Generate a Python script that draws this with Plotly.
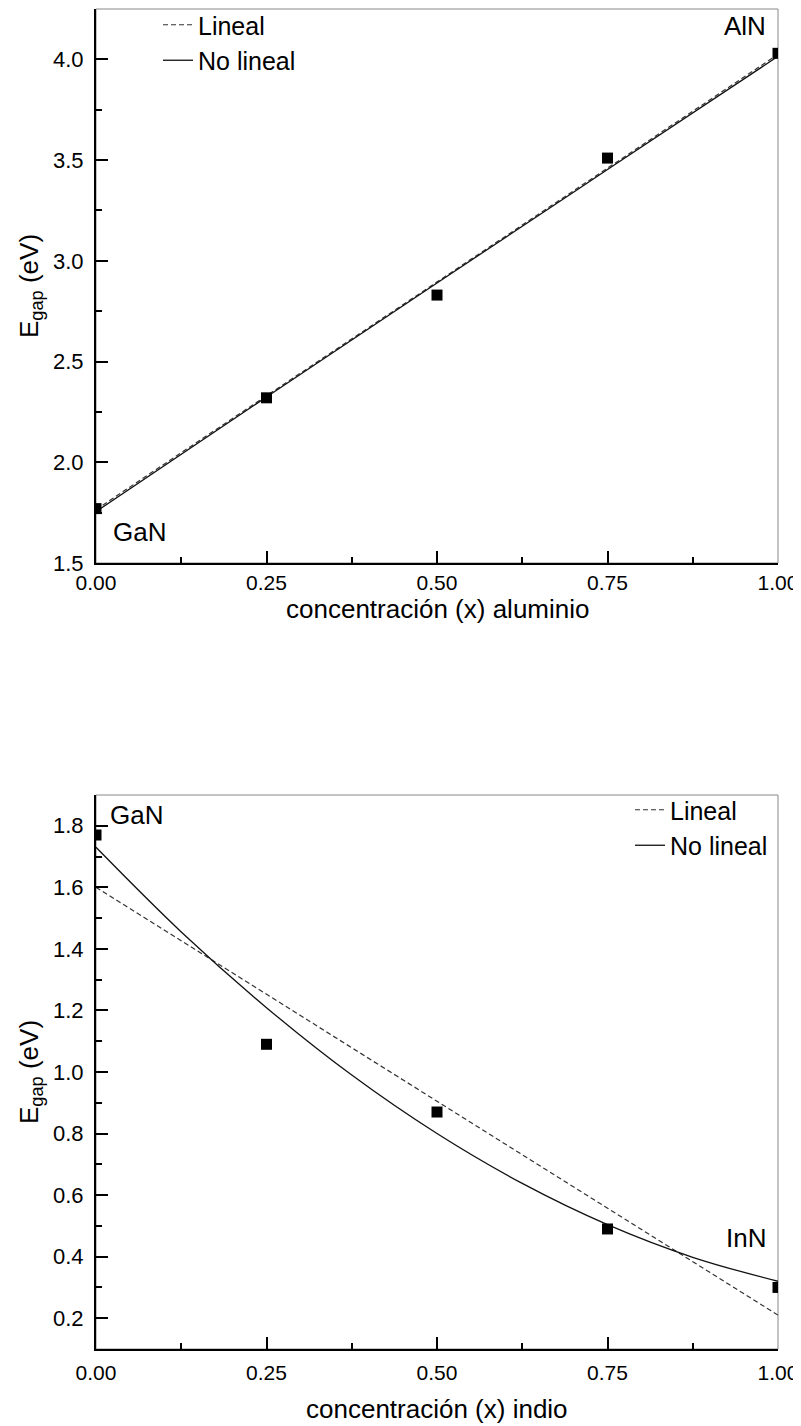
import plotly.graph_objects as go

# ---- data: Al(x)Ga(1-x)N ----
x_al = [0.0, 0.25, 0.5, 0.75, 1.0]
eg_al = [1.77, 2.32, 2.83, 3.51, 4.03]
x_al_fit = [0.0, 0.25, 0.5, 0.75, 1.0]
al_lineal = [1.765, 2.33, 2.895, 3.46, 4.025]
al_nolineal = [1.755, 2.324, 2.89, 3.453, 4.015]

# ---- data: In(x)Ga(1-x)N ----
x_in = [0.0, 0.25, 0.5, 0.75, 1.0]
eg_in = [1.77, 1.09, 0.87, 0.49, 0.30]
x_in_fit = [0.0, 0.125, 0.25, 0.375, 0.5, 0.625, 0.75, 0.875, 1.0]
in_lineal = [1.60, 1.4263, 1.2525, 1.0788, 0.905, 0.7313, 0.5575, 0.3838, 0.21]
in_nolineal = [1.73, 1.455, 1.209, 0.990, 0.80, 0.638, 0.504, 0.398, 0.32]

x_ticks = [0.0, 0.25, 0.5, 0.75, 1.0]
x_ticklabels = ["0.00", "0.25", "0.50", "0.75", "1.00"]

FONT = "Liberation Sans, Arial, sans-serif"
OFF = 8                      # page body margin
W, H = 800, 1426 - OFF


def px(x):
    return (x - OFF) / W


def py(y):
    return 1 - (y - OFF) / H


fig = go.Figure()

dash_style = "5px,3px"

# top panel
fig.add_trace(go.Scatter(x=x_al_fit, y=al_lineal, mode="lines", name="Lineal",
                         line=dict(color="#333333", width=1.2, dash=dash_style),
                         xaxis="x", yaxis="y", legend="legend"))
fig.add_trace(go.Scatter(x=x_al_fit, y=al_nolineal, mode="lines", name="No lineal",
                         line=dict(color="#111111", width=1.3, shape="spline"),
                         xaxis="x", yaxis="y", legend="legend"))
fig.add_trace(go.Scatter(x=x_al, y=eg_al, mode="markers", showlegend=False,
                         marker=dict(symbol="square", size=11, color="black"),
                         xaxis="x", yaxis="y"))

# bottom panel
fig.add_trace(go.Scatter(x=x_in_fit, y=in_lineal, mode="lines", name="Lineal",
                         line=dict(color="#333333", width=1.2, dash=dash_style),
                         xaxis="x2", yaxis="y2", legend="legend2"))
fig.add_trace(go.Scatter(x=x_in_fit, y=in_nolineal, mode="lines", name="No lineal",
                         line=dict(color="#111111", width=1.3, shape="spline"),
                         xaxis="x2", yaxis="y2", legend="legend2"))
fig.add_trace(go.Scatter(x=x_in, y=eg_in, mode="markers", showlegend=False,
                         marker=dict(symbol="square", size=11, color="black"),
                         xaxis="x2", yaxis="y2"))

xdom = [px(96), px(778)]
ydom_top = [py(563), py(9)]
ydom_bot = [py(1349), py(795)]

axis_common = dict(showgrid=False, zeroline=False, showline=True, linecolor="black",
                   linewidth=2, ticks="inside", ticklen=12, tickwidth=2, tickcolor="black",
                   mirror=False, automargin=False)
yfont = dict(family=FONT, size=22, color="black")
xfont = dict(family=FONT, size=21, color="black")

fig.update_layout(
    width=W, height=H, margin=dict(l=0, r=0, t=0, b=0, autoexpand=False),
    paper_bgcolor="white", plot_bgcolor="white",
    font=dict(family=FONT, color="black"),
    xaxis=dict(domain=xdom, range=[0, 1], anchor="y", tickvals=x_ticks, ticktext=x_ticklabels,
               ticklabelstandoff=0, tickfont=xfont,
               minor=dict(ticks="inside", ticklen=6, tickwidth=2, tickcolor="black", dtick=0.125, tick0=0),
               **axis_common),
    yaxis=dict(domain=ydom_top, range=[1.5, 4.25], anchor="x", dtick=0.5, tick0=1.5, tickformat=".1f",
               ticklabelstandoff=6, tickfont=yfont,
               minor=dict(ticks="inside", ticklen=6, tickwidth=2, tickcolor="black", dtick=0.25, tick0=1.5),
               **axis_common),
    xaxis2=dict(domain=xdom, range=[0, 1], anchor="y2", tickvals=x_ticks, ticktext=x_ticklabels,
                ticklabelstandoff=4, tickfont=xfont,
                minor=dict(ticks="inside", ticklen=6, tickwidth=2, tickcolor="black", dtick=0.125, tick0=0),
                **axis_common),
    yaxis2=dict(domain=ydom_bot, range=[0.1, 1.9], anchor="x2", dtick=0.2, tick0=0.2, tickformat=".1f",
                ticklabelstandoff=6, tickfont=yfont,
                minor=dict(ticks="inside", ticklen=6, tickwidth=2, tickcolor="black", dtick=0.1, tick0=0.1),
                **axis_common),
    legend=dict(x=px(158), y=py(2), xanchor="left", yanchor="top",
                bgcolor="rgba(0,0,0,0)", font=dict(family=FONT, size=25, color="black"),
                tracegroupgap=0),
    legend2=dict(x=px(630), y=py(787), xanchor="left", yanchor="top",
                 bgcolor="rgba(0,0,0,0)", font=dict(family=FONT, size=25, color="black"),
                 tracegroupgap=0),
)

# thin grey frame for top/right edges
for xr, yr in [("x domain", "y domain"), ("x2 domain", "y2 domain")]:
    fig.add_shape(type="rect", xref=xr, yref=yr, x0=0, x1=1, y0=0, y1=1,
                  line=dict(color="#888888", width=1), layer="below")

ann_font = dict(family=FONT, size=26, color="black")
fig.add_annotation(x=0.985, y=4.165, xref="x", yref="y", text="AlN", showarrow=False,
                   xanchor="right", yanchor="middle", font=ann_font)
fig.add_annotation(x=0.022, y=1.655, xref="x", yref="y", text="GaN", showarrow=False,
                   xanchor="left", yanchor="middle", font=ann_font)
fig.add_annotation(x=0.018, y=1.835, xref="x2", yref="y2", text="GaN", showarrow=False,
                   xanchor="left", yanchor="middle", font=ann_font)
fig.add_annotation(x=0.985, y=0.46, xref="x2", yref="y2", text="InN", showarrow=False,
                   xanchor="right", yanchor="middle", font=ann_font)

# axis titles
title_font = dict(family=FONT, size=26, color="black")
fig.add_annotation(x=px(437), y=py(609), xref="paper", yref="paper",
                   text="concentración (x) aluminio", showarrow=False, font=title_font,
                   xanchor="center", yanchor="middle")
fig.add_annotation(x=px(437), y=py(1409), xref="paper", yref="paper",
                   text="concentración (x) indio", showarrow=False, font=title_font,
                   xanchor="center", yanchor="middle")
fig.add_annotation(x=px(30), y=py(286), xref="paper", yref="paper",
                   text="E<sub>gap</sub> (eV)", showarrow=False, font=title_font, textangle=-90,
                   xanchor="center", yanchor="middle")
fig.add_annotation(x=px(30), y=py(1072), xref="paper", yref="paper",
                   text="E<sub>gap</sub> (eV)", showarrow=False, font=title_font, textangle=-90,
                   xanchor="center", yanchor="middle")

fig.write_html("out.html")
